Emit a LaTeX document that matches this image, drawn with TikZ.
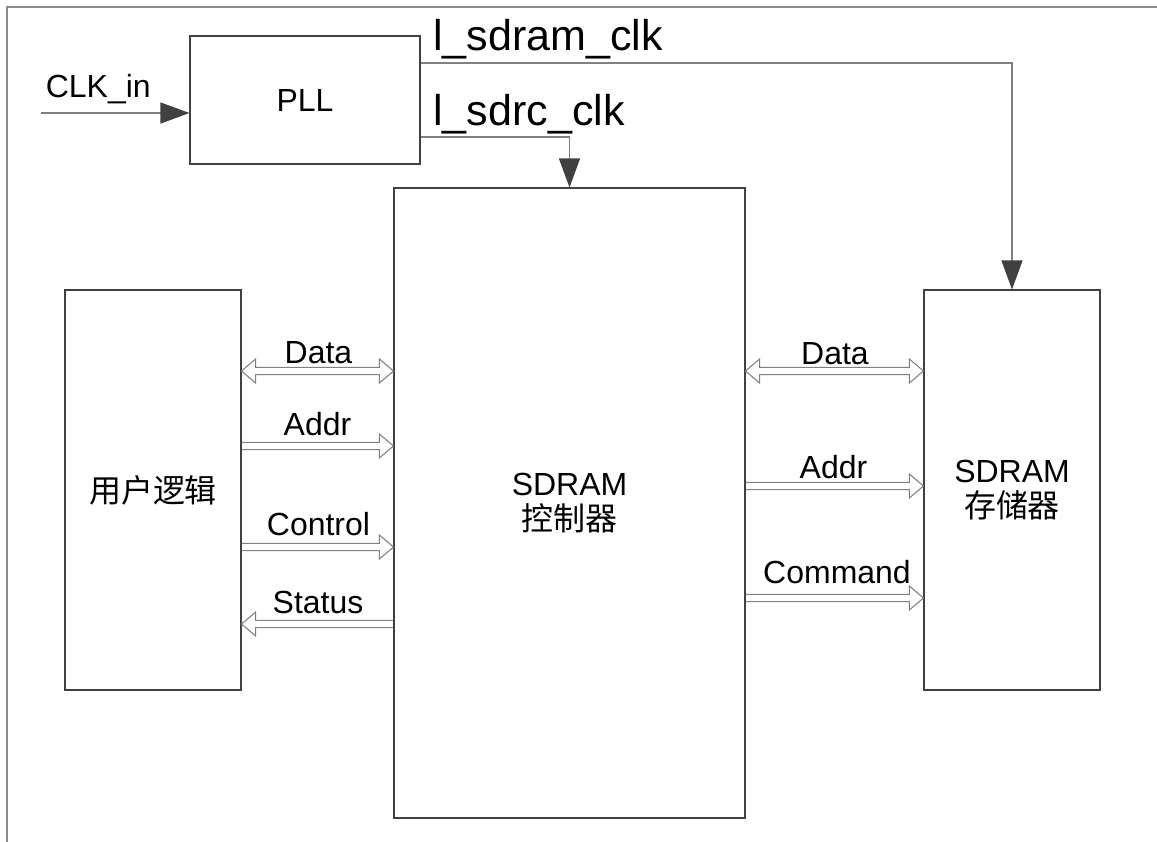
\documentclass[tikz,border=0pt]{standalone}
\usepackage{fontspec}
\setmainfont{Liberation Sans}
\newfontfamily\cjk{Noto Sans CJK SC}
\usetikzlibrary{arrows.meta,calc,positioning}

\definecolor{boxline}{HTML}{404040}
\definecolor{wireline}{HTML}{808080}
\definecolor{framegray}{HTML}{8C8C8C}

% bus arrow sizes
\newcommand{\busw}{2.1pt}
\newcommand{\headw}{6.8pt}
\newcommand{\headl}{8pt}

\begin{document}
\begin{tikzpicture}
    [
      block/.style={draw=boxline,line width=0.6pt,inner sep=0pt,align=center,
        font=\fontsize{18.2}{20}\selectfont},
      sig/.style={inner sep=0pt,font=\fontsize{18.2}{20}\selectfont},
      clksig/.style={inner sep=0pt,font=\fontsize{24.5}{27}\selectfont},
      clk/.style={draw=wireline,line width=0.6pt,
        -{Triangle[length=0.58cm,width=0.42cm,color=boxline]}},
      bus/.style={draw=wireline,line width=0.6pt,
        to path={let \p1=(\tikztostart),\p2=(\tikztotarget),
          \p3=($(\tikztotarget)!\headl!(\tikztostart)$) in
          (\x1,\y1+\busw) -- (\x3,\y1+\busw) -- (\x3,\y1+\headw) -- (\x2,\y1)
          -- (\x3,\y1-\headw) -- (\x3,\y1-\busw) -- (\x1,\y1-\busw)}},
      busboth/.style={draw=wireline,line width=0.6pt,
        to path={let \p1=(\tikztostart),\p2=(\tikztotarget),
          \p3=($(\tikztotarget)!\headl!(\tikztostart)$),
          \p4=($(\tikztostart)!\headl!(\tikztotarget)$) in
          (\x1,\y1) -- (\x4,\y1+\headw) -- (\x4,\y1+\busw) -- (\x3,\y1+\busw)
          -- (\x3,\y1+\headw) -- (\x2,\y1) -- (\x3,\y1-\headw) -- (\x3,\y1-\busw)
          -- (\x4,\y1-\busw) -- (\x4,\y1-\headw) -- cycle}},
    ]

    \path[use as bounding box,clip] (0,0) rectangle (23.14,-16.82);
    \draw[framegray,line width=1.1pt] (0.14,-0.14) rectangle (25,-18);

    \node (pll) [block,minimum width=4.6cm,minimum height=2.56cm] at (6.10,-2.00) {PLL};
    \node (ctrl) [block,minimum width=7.02cm,minimum height=12.6cm] at (11.39,-10.06)
      {SDRAM\\{\cjk 控制器}};
    \node (ulogic) [block,minimum width=3.52cm,minimum height=8cm] at (3.06,-9.80)
      {\cjk 用户逻辑};
    \node (mem) [block,minimum width=3.52cm,minimum height=8cm] at (20.24,-9.80)
      {SDRAM\\{\cjk 存储器}};

    % clocks
    \coordinate (clkin) at (0.82,-2.26);
    \draw[clk] (clkin) -- (pll.west |- clkin);
    \draw[clk] ([yshift=0.74cm]pll.east) -| (mem.north);
    \draw[clk] ([yshift=-0.74cm]pll.east) -| (ctrl.north);

    \node (clkinlbl) [sig,anchor=base west] at (0.91,-1.94) {CLK\_in};
    \node (sdramlbl) [clksig,anchor=base west] at (8.66,-1.00) {l\_sdram\_clk};
    \node (sdrclbl) [clksig,anchor=base west] at (8.66,-2.50) {l\_sdrc\_clk};

    % user side
    \draw[busboth] (ulogic.east |- 0,-7.42) to (ctrl.west |- 0,-7.42);
    \draw[bus] (ulogic.east |- 0,-8.92) to (ctrl.west |- 0,-8.92);
    \draw[bus] (ulogic.east |- 0,-10.94) to (ctrl.west |- 0,-10.94);
    \draw[bus] (ctrl.west |- 0,-12.48) to (ulogic.east |- 0,-12.48);

    \node (udata) [sig] at (6.37,-7.05) {Data};
    \node (uaddr) [sig] at (6.35,-8.48) {Addr};
    \node (uctrl) [sig] at (6.37,-10.48) {Control};
    \node (ustat) [sig] at (6.36,-12.04) {Status};

    % memory side
    \draw[busboth] (ctrl.east |- 0,-7.42) to (mem.west |- 0,-7.42);
    \draw[bus] (ctrl.east |- 0,-9.72) to (mem.west |- 0,-9.72);
    \draw[bus] (ctrl.east |- 0,-11.96) to (mem.west |- 0,-11.96);

    \node (mdata) [sig] at (16.70,-7.08) {Data};
    \node (maddr) [sig] at (16.67,-9.34) {Addr};
    \node (mcmd) [sig] at (16.74,-11.44) {Command};

  \end{tikzpicture}
\end{document}
